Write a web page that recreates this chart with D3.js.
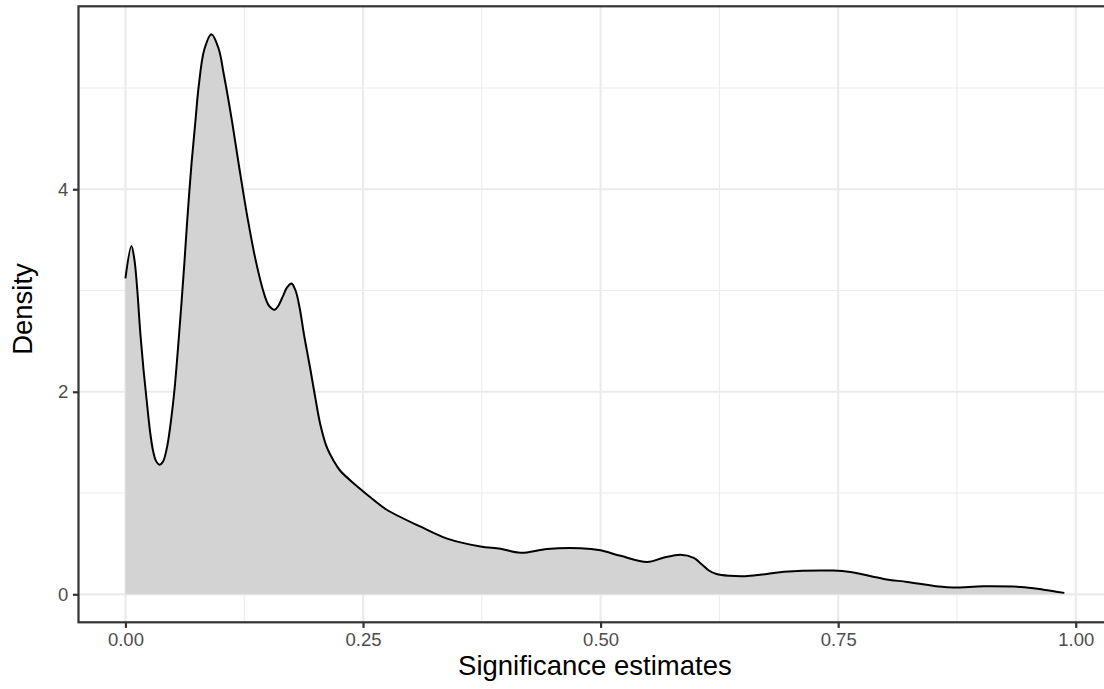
<!DOCTYPE html>
<html>
<head>
<meta charset="utf-8">
<script src="https://cdn.jsdelivr.net/npm/d3@7"></script>
<style>
    html, body { margin: 0; padding: 0; background: #ffffff; }
    svg { display: block; font-family: "Liberation Sans", Arial, sans-serif; }
</style>
</head>
<body>
<svg id="chart" width="1104" height="689"></svg>
<script>
const sigValues = [
    0.000, 0.0063, 0.0095, 0.0125, 0.0155, 0.019, 0.0225, 0.026, 0.029, 0.032,
    0.0358, 0.0395, 0.0439, 0.048, 0.0516, 0.0568, 0.062, 0.065, 0.0695, 0.0737,
    0.077, 0.083, 0.0905, 0.098, 0.1034, 0.112, 0.120, 0.129, 0.137, 0.1455, 0.151,
    0.157, 0.161, 0.166, 0.170, 0.1747, 0.179, 0.1835, 0.1876, 0.195, 0.200,
    0.205, 0.212, 0.219, 0.226, 0.244, 0.261, 0.275, 0.310, 0.3385, 0.3736,
    0.3946, 0.4157, 0.4437, 0.4788, 0.4998, 0.521, 0.549, 0.566, 0.584, 0.598,
    0.606, 0.614, 0.622, 0.636, 0.652, 0.670, 0.693, 0.745, 0.763, 0.798,
    0.8226, 0.8646, 0.903, 0.942, 0.966, 0.988
];
const densityValues = [
    3.12, 3.44, 3.30, 3.00, 2.60, 2.22, 1.90, 1.60, 1.42, 1.32,
    1.28, 1.31, 1.46, 1.72, 2.02, 2.61, 3.27, 3.69, 4.25, 4.68,
    5.01, 5.38, 5.53, 5.39, 5.14, 4.68, 4.20, 3.69, 3.30, 2.98, 2.85,
    2.81, 2.85, 2.95, 3.03, 3.07, 3.00, 2.82, 2.58, 2.20, 1.93,
    1.68, 1.45, 1.32, 1.22, 1.065, 0.934, 0.835, 0.67, 0.55, 0.473,
    0.45, 0.41, 0.447, 0.454, 0.434, 0.38, 0.32, 0.36, 0.39, 0.36,
    0.30, 0.235, 0.20, 0.182, 0.178, 0.195, 0.222, 0.234, 0.22, 0.152,
    0.122, 0.069, 0.079, 0.073, 0.046, 0.014
];

const xTicks = [0, 0.25, 0.5, 0.75, 1];
const xMinor = [0.125, 0.375, 0.625, 0.875];
const yTicks = [0, 2, 4];
const yMinor = [1, 3, 5];
const xTitle = "Significance estimates";
const yTitle = "Density";

const svg = d3.select('#chart');
const panel = { left: 78.5, top: 6.3, bottom: 622.3 };
const xUnit = 950.3;          // px per unit on the x axis

const data = sigValues.map((v, i) => ({ x: v, d: densityValues[i] }));

// ggplot style 5% expansion
const xExt = d3.extent(sigValues);
const xPad = (xExt[1] - xExt[0]) * 0.05;
const xDom = [xExt[0] - xPad, xExt[1] + xPad];
panel.right = panel.left + (xDom[1] - xDom[0]) * xUnit;

const yMax = d3.max(densityValues);
const yDom = [0 - yMax * 0.05, yMax * 1.05];

const x = d3.scaleLinear().domain(xDom).range([panel.left, panel.right]);
const y = d3.scaleLinear().domain(yDom).range([panel.bottom, panel.top]);

svg.append('clipPath').attr('id', 'pclip')
    .append('rect')
    .attr('x', panel.left).attr('y', panel.top)
    .attr('width', panel.right - panel.left).attr('height', panel.bottom - panel.top);

const g = svg.append('g').attr('clip-path', 'url(#pclip)');

// grid
g.selectAll('.xminor').data(xMinor).join('line')
    .attr('x1', d => x(d)).attr('x2', d => x(d))
    .attr('y1', panel.top).attr('y2', panel.bottom)
    .attr('stroke', '#ebebeb').attr('stroke-width', 1.1);
g.selectAll('.yminor').data(yMinor).join('line')
    .attr('y1', d => y(d)).attr('y2', d => y(d))
    .attr('x1', panel.left).attr('x2', panel.right)
    .attr('stroke', '#ebebeb').attr('stroke-width', 1.1);
g.selectAll('.xmajor').data(xTicks).join('line')
    .attr('x1', d => x(d)).attr('x2', d => x(d))
    .attr('y1', panel.top).attr('y2', panel.bottom)
    .attr('stroke', '#ebebeb').attr('stroke-width', 2.2);
g.selectAll('.ymajor').data(yTicks).join('line')
    .attr('y1', d => y(d)).attr('y2', d => y(d))
    .attr('x1', panel.left).attr('x2', panel.right)
    .attr('stroke', '#ebebeb').attr('stroke-width', 2.2);

// density
const curve = d3.curveCatmullRom.alpha(0.5);
const area = d3.area()
    .x(d => x(d.x))
    .y0(y(0))
    .y1(d => y(d.d))
    .curve(curve);
const line = d3.line()
    .x(d => x(d.x))
    .y(d => y(d.d))
    .curve(curve);

g.append('path').attr('d', area(data)).attr('fill', '#d3d3d3');
g.append('path').attr('d', line(data))
    .attr('fill', 'none').attr('stroke', '#000').attr('stroke-width', 2);

// border
svg.append('rect')
    .attr('x', panel.left).attr('y', panel.top)
    .attr('width', panel.right - panel.left).attr('height', panel.bottom - panel.top)
    .attr('fill', 'none').attr('stroke', '#333333').attr('stroke-width', 2.2);

// axes
const xAxis = d3.axisBottom(x).tickValues(xTicks).tickFormat(d3.format('.2f'))
    .tickSizeInner(5.6).tickSizeOuter(0).tickPadding(4.5);
const gx = svg.append('g').attr('transform', `translate(0,${panel.bottom})`).call(xAxis);
const yAxis = d3.axisLeft(y).tickValues(yTicks).tickFormat(d3.format('d'))
    .tickSizeInner(5.6).tickSizeOuter(0).tickPadding(4.5);
const gy = svg.append('g').attr('transform', `translate(${panel.left},0)`).call(yAxis);

[gx, gy].forEach(ax => {
    ax.select('.domain').remove();
    ax.selectAll('.tick line').attr('stroke', '#333333').attr('stroke-width', 2.2);
    ax.selectAll('.tick text')
        .attr('fill', '#4d4d4d')
        .style('font-size', '18.5px')
        .style('font-family', '"Liberation Sans", Arial, sans-serif');
});

// titles
svg.append('text')
    .attr('x', (panel.left + panel.right) / 2)
    .attr('y', 675)
    .attr('text-anchor', 'middle')
    .style('font-size', '27.5px')
    .attr('fill', '#000')
    .text(xTitle);

svg.append('text')
    .attr('transform', `translate(31.5,309) rotate(-90)`)
    .attr('text-anchor', 'middle')
    .style('font-size', '27.5px')
    .attr('fill', '#000')
    .text(yTitle);
</script>
</body>
</html>
